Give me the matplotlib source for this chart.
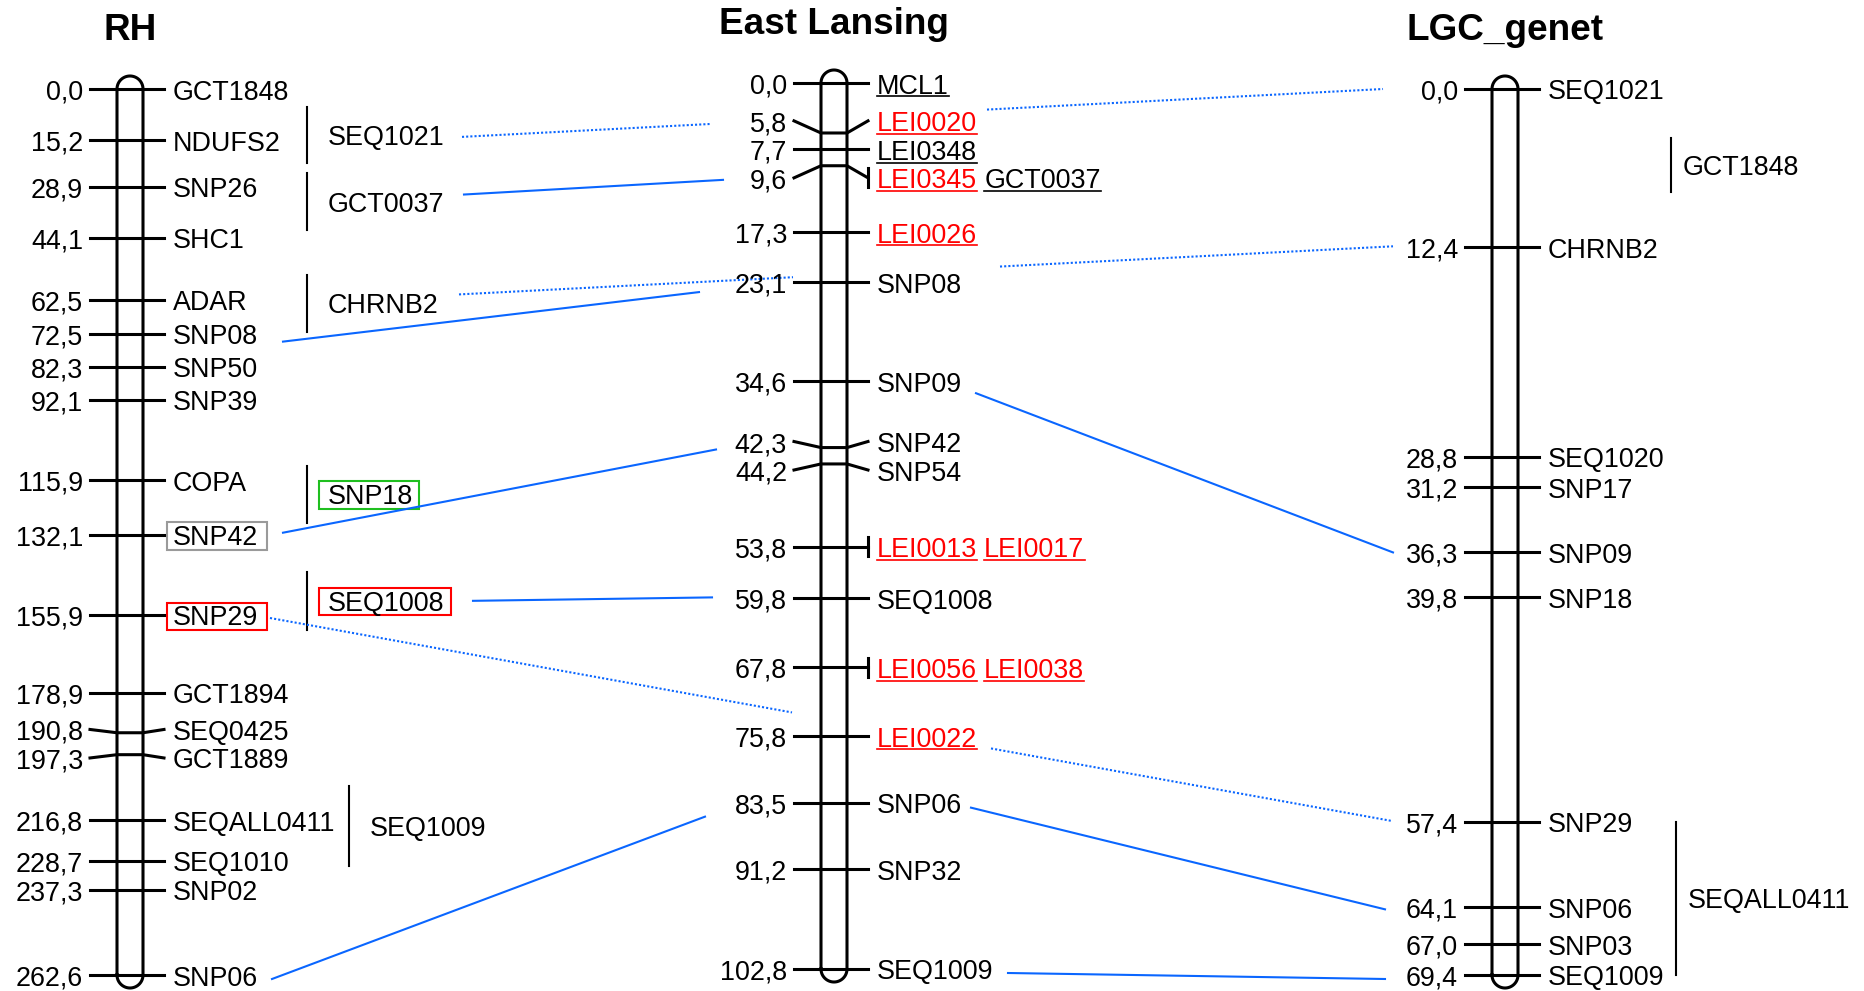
import numpy as np
import matplotlib
matplotlib.use("Agg")
import matplotlib.pyplot as plt
from matplotlib.patches import Rectangle

plt.rcParams['font.family'] = ['Liberation Sans', 'DejaVu Sans']

# ---- RH map (cM) ----
rh_names = ["GCT1848", "NDUFS2", "SNP26", "SHC1", "ADAR", "SNP08", "SNP50", "SNP39",
            "COPA", "SNP42", "SNP29", "GCT1894", "SEQ0425", "GCT1889", "SEQALL0411",
            "SEQ1010", "SNP02", "SNP06"]
rh_pos = [0.0, 15.2, 28.9, 44.1, 62.5, 72.5, 82.3, 92.1, 115.9, 132.1, 155.9,
          178.9, 190.8, 197.3, 216.8, 228.7, 237.3, 262.6]
rh_groups = ["SEQ1021", "GCT0037", "CHRNB2", "SNP18", "SEQ1008", "SEQ1009"]
rh_group_start = [5.3, 24.9, 55.1, 111.6, 143.2, 206.6]
rh_group_end = [21.9, 41.8, 72.0, 128.5, 160.2, 230.3]

# ---- East Lansing map (cM) ----
el_names = [["MCL1"], ["LEI0020"], ["LEI0348"], ["LEI0345", "GCT0037"], ["LEI0026"],
            ["SNP08"], ["SNP09"], ["SNP42"], ["SNP54"], ["LEI0013", "LEI0017"],
            ["SEQ1008"], ["LEI0056", "LEI0038"], ["LEI0022"], ["SNP06"], ["SNP32"],
            ["SEQ1009"]]
el_pos = [0.0, 5.8, 7.7, 9.6, 17.3, 23.1, 34.6, 42.3, 44.2, 53.8, 59.8, 67.8,
          75.8, 83.5, 91.2, 102.8]
el_red = ["LEI0020", "LEI0345", "LEI0026", "LEI0013", "LEI0017", "LEI0056",
          "LEI0038", "LEI0022"]
el_underlined = el_red + ["MCL1", "LEI0348", "GCT0037"]

# ---- LGC_genet map (cM) ----
lgc_names = ["SEQ1021", "CHRNB2", "SEQ1020", "SNP17", "SNP09", "SNP18", "SNP29",
             "SNP06", "SNP03", "SEQ1009"]
lgc_pos = [0.0, 12.4, 28.8, 31.2, 36.3, 39.8, 57.4, 64.1, 67.0, 69.4]
lgc_groups = ["GCT1848", "SEQALL0411"]
lgc_group_start = [3.8, 57.4]
lgc_group_end = [8.1, 69.4]

# ---- links between maps ----
link_from = [("RH", "SEQ1021"), ("RH", "GCT0037"), ("RH", "CHRNB2"), ("RH", "SNP08"),
             ("RH", "SNP42"), ("RH", "SEQ1008"), ("RH", "SNP29"), ("RH", "SNP06"),
             ("EL", "SNP09"), ("EL", "SNP06"), ("EL", "SEQ1009")]
link_to = [("LGC", "SEQ1021"), ("EL", "GCT0037"), ("LGC", "CHRNB2"), ("EL", "SNP08"),
           ("EL", "SNP42"), ("EL", "SEQ1008"), ("LGC", "SNP29"), ("EL", "SNP06"),
           ("LGC", "SNP09"), ("LGC", "SNP06"), ("LGC", "SEQ1009")]

# layout ------------------------------------------------------------------
W, H = 1865, 991
FS = 19.4
CAP = 0.716 * FS * 100 / 72
BLUE = "#0a66ff"
RED = "#ff0000"

maps = {
    "RH": dict(title="RH", cx=130, top=89, names=[[n] for n in rh_names], pos=rh_pos,
               groups=rh_groups, gs=rh_group_start, ge=rh_group_end,
               gx=[307, 307, 307, 307, 307, 349], gtx=21,
               boxed={"SNP42": "#9a9a9a", "SNP29": RED},
               gboxed={"SNP18": "#1fbf1f", "SEQ1008": RED}),
    "EL": dict(title="East Lansing", cx=834, top=83, names=el_names, pos=el_pos,
               groups=[], gs=[], ge=[], gx=[], gtx=0, boxed={}, gboxed={}),
    "LGC": dict(title="LGC_genet", cx=1505, top=89, names=[[n] for n in lgc_names],
                pos=lgc_pos, groups=lgc_groups, gs=lgc_group_start, ge=lgc_group_end,
                gx=[1671, 1676], gtx=12, boxed={}, gboxed={}),
}
LENGTH = 886
R = 13

# x extents of each link, vertical nudges of its ends, and the stretch
# hidden behind the middle map
link_x = [(462, 1383), (464, 723), (459, 1393), (283, 699), (283, 716), (473, 712),
          (270, 1391), (272, 705), (976, 1393), (971, 1385), (1008, 1385)]
link_dy = [(2, 0), (-7, 2), (-9, -1), (8, 10), (-2, 8), (0, -1),
           (3, -1), (4, 14), (12, 0), (5, 2), (4, 4)]
link_gap = {0: (711, 987), 2: (793, 1000), 6: (792, 991)}

fig = plt.figure(figsize=(W / 100, H / 100), dpi=100)
ax = fig.add_axes([0, 0, 1, 1])
ax.set_xlim(0, W)
ax.set_ylim(H, 0)
ax.axis('off')
renderer = fig.canvas.get_renderer()


def ypix(m, v):
    return m['top'] + v * LENGTH / m['pos'][-1]


def spread(ys, gap):
    # push crowded labels apart, keeping each cluster centred on its ticks
    blocks = []
    for y in ys:
        blocks.append([y, 1])
        while len(blocks) > 1:
            (sa, na), (sb, nb) = blocks[-2], blocks[-1]
            ca, cb = sa / na, sb / nb
            if (cb - (nb - 1) * gap / 2) - (ca + (na - 1) * gap / 2) < gap:
                blocks[-2:] = [[sa + sb, na + nb]]
            else:
                break
    out = []
    for s, n in blocks:
        c = s / n
        out += [c + (i - (n - 1) / 2) * gap for i in range(n)]
    return out


def xextent(t):
    bb = t.get_window_extent(renderer)
    p = ax.transData.inverted().transform([[bb.x0, bb.y0], [bb.x1, bb.y1]])
    return p[0][0], p[1][0]


anchor = {}

for key, m in maps.items():
    cx, top = m['cx'], m['top']
    bottom = ypix(m, m['pos'][-1])
    ax.text(cx, top - 49, m['title'], ha='center', va='baseline',
            fontsize=26.6, fontweight='bold')

    # chromosome outline
    th1 = np.linspace(np.pi, 2 * np.pi, 40)
    th2 = np.linspace(0, np.pi, 40)
    xs = np.concatenate([[cx - R, cx - R], cx + R * np.cos(th1), [cx + R, cx + R], cx + R * np.cos(th2)])
    ys_ = np.concatenate([[bottom, top], top + R * np.sin(th1), [top, bottom], bottom + R * np.sin(th2)])
    ax.plot(xs, ys_, color='black', lw=2.2, solid_joinstyle='round')

    left, right = cx - R - 27, cx + R + 21
    ys = [ypix(m, v) for v in m['pos']]
    lys = spread(ys, 28.5)
    anchor[key] = {}
    for v, y, ly, names in zip(m['pos'], ys, lys, m['names']):
        if abs(ly - y) < 0.5:
            ax.plot([left, right], [y, y], color='black', lw=2.2)
        else:
            ax.plot([left, cx - R, cx + R, right], [ly, y, y, ly], color='black', lw=2.2)
        ax.text(left - 7, ly + 10.5, f"{v:.1f}".replace('.', ','), ha='right',
                va='baseline', fontsize=FS)
        x = right + 9
        for name in names:
            col = RED if name in el_red and key == "EL" else 'black'
            t = ax.text(x, ly + 10.5, name, color=col, ha='left', va='baseline', fontsize=FS)
            x0, x1 = xextent(t)
            if key == "EL" and name in el_underlined:
                ax.plot([x0, x1], [ly + 13.2, ly + 13.2], color=col, lw=1.2)
            if name in m['boxed']:
                ax.add_patch(Rectangle((x0 - 6, ly + 10.5 - CAP - 3.5), x1 - x0 + 15, CAP + 8,
                                       fill=False, ec=m['boxed'][name], lw=1.5))
            anchor[key][name] = ly
            x = x1 + 7
        if len(names) > 1:
            ax.plot([right, right], [ly - 9.5, ly + 9.5], color='black', lw=2.2)

    # intervals placed beside the map
    for name, s, e, gx in zip(m['groups'], m['gs'], m['ge'], m['gx']):
        y0, y1 = ypix(m, s), ypix(m, e)
        c = (y0 + y1) / 2
        ax.plot([gx, gx], [y0, y1], color='black', lw=1.5)
        t = ax.text(gx + m['gtx'], c + 10, name, ha='left', va='baseline', fontsize=FS)
        if name in m['gboxed']:
            x0, x1 = xextent(t)
            ax.add_patch(Rectangle((x0 - 9, c + 10 - CAP - 3.5), x1 - x0 + 15, CAP + 8,
                                   fill=False, ec=m['gboxed'][name], lw=1.5))
        anchor[key].setdefault(name, c)

# links
for i, ((ma, na), (mb, nb)) in enumerate(zip(link_from, link_to)):
    xa, xb = link_x[i]
    ya = anchor[ma][na] + link_dy[i][0]
    yb = anchor[mb][nb] + link_dy[i][1]
    dotted = (ma, mb) == ("RH", "LGC")
    style = dict(color=BLUE, lw=1.5)
    if dotted:
        style.update(ls=(0, (1, 1)), dash_capstyle='butt')
    if i in link_gap:
        g0, g1 = link_gap[i]
        yg0, yg1 = np.interp([g0, g1], [xa, xb], [ya, yb])
        ax.plot([xa, g0], [ya, yg0], **style)
        ax.plot([g1, xb], [yg1, yb], **style)
    else:
        ax.plot([xa, xb], [ya, yb], **style)

fig.savefig("out.png", dpi=100)
